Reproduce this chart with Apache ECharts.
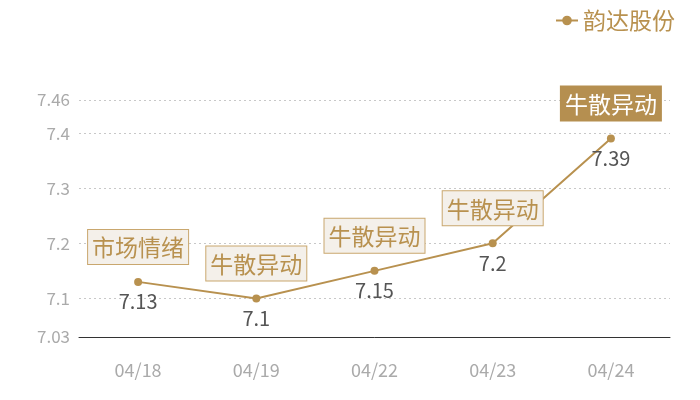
<!DOCTYPE html>
<html>
<head>
<meta charset="utf-8">
<script src="https://cdn.jsdelivr.net/npm/echarts@6/dist/echarts.min.js"></script>
<style>
  html, body { margin: 0; padding: 0; background: #fff; }
  #chart { width: 700px; height: 400px; }
</style>
</head>
<body>
<div id="chart"></div>
<script>
// 日期 / 收盘价 / 标注
const dates = ["04/18", "04/19", "04/22", "04/23", "04/24"];
const prices = [7.13, 7.1, 7.15, 7.2, 7.39];
const notes = ["市场情绪", "牛散异动", "牛散异动", "牛散异动", "牛散异动"];
const yMin = 7.03;
const yMax = 7.46;

const gold = "#b8914f";
const font = "'Noto Sans CJK SC', 'Noto Sans', sans-serif";

const noteData = prices.map((v, i) => {
  const last = i === prices.length - 1;
  return {
    value: v,
    label: {
      formatter: notes[i],
      color: last ? "#fff" : gold,
      backgroundColor: last ? "#b58f50" : "#f4f0ea",
      borderColor: last ? "#b58f50" : "#c9a76e",
    },
  };
});

const chart = echarts.init(document.getElementById("chart"));
chart.setOption({
  animation: false,
  textStyle: { fontFamily: font },
  legend: {
    data: ["韵达股份"],
    top: 4,
    right: 20,
    itemWidth: 22,
    itemHeight: 12,
    itemGap: 6,
    textStyle: { color: gold, fontSize: 23, fontFamily: font },
  },
  grid: { left: 79, right: 30, top: 100, bottom: 63 },
  xAxis: {
    type: "category",
    data: dates,
    axisLine: { lineStyle: { color: "#333", width: 1 } },
    axisTick: { show: false },
    axisLabel: { color: "#aaa", fontSize: 18, margin: 24 },
  },
  yAxis: {
    type: "value",
    min: yMin,
    max: yMax,
    axisLine: { show: false },
    axisTick: { show: false },
    axisLabel: { color: "#aaa", fontSize: 17, margin: 9 },
    splitLine: { lineStyle: { color: "#c8c8c8", type: [2, 3] } },
  },
  series: [
    {
      name: "韵达股份",
      type: "line",
      data: prices,
      symbol: "circle",
      symbolSize: 8,
      itemStyle: { color: gold },
      lineStyle: { color: gold, width: 2 },
      label: {
        show: true,
        position: "bottom",
        distance: 6,
        color: "#555",
        fontSize: 20,
      },
      z: 3,
    },
    {
      name: "标注",
      type: "line",
      data: noteData,
      symbol: "circle",
      symbolSize: 8,
      itemStyle: { color: "rgba(0,0,0,0)" },
      lineStyle: { width: 0, color: "rgba(0,0,0,0)" },
      silent: true,
      label: {
        show: true,
        position: "top",
        distance: 14,
        fontSize: 23,
        padding: [6, 4, 5, 4],
        borderWidth: 1,
      },
      z: 4,
    },
  ],
});

window.onresize = function () {
  chart.resize();
};
</script>
</body>
</html>
